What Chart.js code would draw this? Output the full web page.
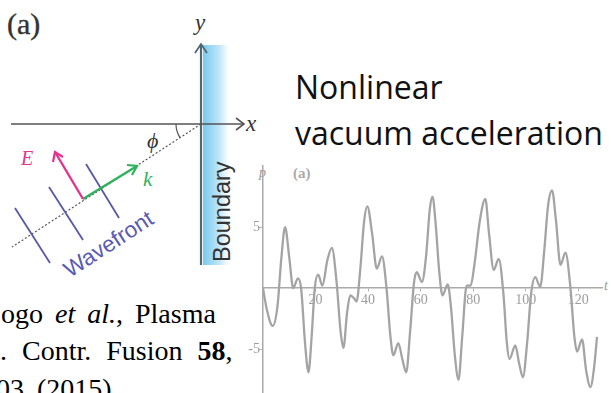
<!DOCTYPE html>
<html>
<head>
<meta charset="utf-8">
<script src="https://cdn.jsdelivr.net/npm/chart.js@4"></script>
<style>
  html, body { margin: 0; padding: 0; background: #fff; }
  body { width: 611px; height: 393px; overflow: hidden; position: relative; }
  #sketch { position: absolute; left: 0; top: 0; }
  #plot { position: absolute; left: 240px; top: 150px; }
</style>
</head>
<body>
<svg id="sketch" width="611" height="393" xmlns="http://www.w3.org/2000/svg">
  <defs>
    <linearGradient id="band" x1="0" x2="1" y1="0" y2="0">
      <stop offset="0" stop-color="#78caef"/>
      <stop offset="0.6" stop-color="#bde5f8"/>
      <stop offset="1" stop-color="#ffffff"/>
    </linearGradient>
  </defs>
  <!-- diagram -->
  <text x="7" y="34" font-family="Liberation Serif" font-size="30" fill="#333" stroke="#333" stroke-width="0.4">(a)</text>
  <rect x="203" y="45" width="26" height="220" fill="url(#band)"/>
  <line x1="201" y1="265" x2="201" y2="44" stroke="#4f6673" stroke-width="2.2"/>
  <polyline points="195,53 201,44 207,53" fill="none" stroke="#4f6673" stroke-width="1.8"/>
  <text x="195" y="30" font-family="Liberation Serif" font-style="italic" font-size="23" fill="#333">y</text>
  <line x1="11" y1="124" x2="244" y2="124" stroke="#555" stroke-width="1.5"/>
  <polyline points="236,118 244,124 236,130" fill="none" stroke="#555" stroke-width="1.6"/>
  <text x="246" y="131" font-family="Liberation Serif" font-style="italic" font-size="23" fill="#333">x</text>
  <line x1="201" y1="124" x2="12" y2="247" stroke="#555" stroke-width="1.2" stroke-dasharray="2,2"/>
  <path d="M 176 124 A 25 25 0 0 0 180 137.6" fill="none" stroke="#555" stroke-width="1.2"/>
  <text x="147" y="148" font-family="Liberation Serif" font-style="italic" font-size="22" fill="#333">ϕ</text>
  <line x1="15" y1="208" x2="50" y2="263" stroke="#5858a8" stroke-width="1.8"/>
  <line x1="49" y1="187" x2="83" y2="240" stroke="#5858a8" stroke-width="1.8"/>
  <line x1="86" y1="164" x2="119" y2="218" stroke="#5858a8" stroke-width="1.8"/>
  <line x1="83" y1="199" x2="137" y2="166" stroke="#2fb25c" stroke-width="2.4"/>
  <polyline points="127,165 137,166 132,175" fill="none" stroke="#2fb25c" stroke-width="2.2"/>
  <text x="143" y="186" font-family="Liberation Serif" font-style="italic" font-size="21" fill="#2fb25c">k</text>
  <line x1="83" y1="199" x2="55" y2="152" stroke="#e4338e" stroke-width="2.4"/>
  <polyline points="53,162 55,152 63,157" fill="none" stroke="#e4338e" stroke-width="2.2"/>
  <text x="21" y="165" font-family="Liberation Serif" font-style="italic" font-size="20" fill="#e4338e">E</text>
  <text x="70" y="278" transform="rotate(-33 70 278)" font-family="Liberation Sans" font-size="22.5" fill="#5a5ab4">Wavefront</text>
  <text x="230" y="262" transform="rotate(-90 230 262)" font-family="Liberation Sans" font-size="23.5" fill="#333">Boundary</text>
  <!-- headline -->
  <text x="295" y="99" font-family="Open Sans" font-size="32" fill="#111">Nonlinear</text>
  <text x="295" y="145" font-family="Open Sans" font-size="32" fill="#111" word-spacing="0">vacuum acceleration</text>
  <!-- reference -->
  <text x="1" y="323" font-family="Liberation Serif" font-size="28" fill="#000" word-spacing="5">ogo <tspan font-style="italic">et al.</tspan>, Plasma</text>
  <text x="0" y="360" font-family="Liberation Serif" font-size="28" fill="#000" word-spacing="8">. Contr. Fusion <tspan font-weight="bold">58</tspan>,</text>
  <text x="-4" y="398" font-family="Liberation Serif" font-size="28" fill="#000" word-spacing="6">03 (2015)</text>
  <!-- plot labels -->
  <text x="259" y="177" font-family="Liberation Serif" font-style="italic" font-size="14" fill="#999">p</text>
  <text x="293" y="178" font-family="Liberation Serif" font-weight="bold" font-size="15" fill="#aaa">(a)</text>
  <text x="604" y="290" font-family="Liberation Serif" font-style="italic" font-size="14" fill="#999">t</text>
</svg>
<canvas id="plot" width="371" height="260"></canvas>
<script>
// momentum p against time t
const tempos = [0, 1.5, 3.7, 5.5, 7, 8.4, 10, 11.5, 13.3, 14.5, 16, 17.3, 18.5, 19.7, 21, 22.6, 24.5, 26.2, 28, 29.5,
  30.6, 32, 33.2, 34.5, 35.6, 37, 38.5, 39.7, 41.5, 43.3, 45.3, 47, 48.5, 49.6, 51.5, 53, 54.5, 56, 57.5, 58.5,
  60.5, 62, 63.5, 64.5, 65.8, 67, 68.3, 70.3, 71.5, 73, 74.4, 75.8, 77.5, 79, 80.5, 82.5, 84.6, 86, 87.8, 89.7,
  91.5, 92.8, 93.8, 96, 97.5, 98.9, 100.5, 102, 103.6, 105.5, 107, 108.5, 110, 111.5, 113.2, 115.1, 117, 118.5,
  119.5, 121.4, 123, 124.6, 126, 127.1];
const momento = [0, -1.8, -3.1, -1.5, 2.5, 5.0, 2.5, 0, 0.8, 0, -4.5, -6.9, -4, 0, 1.1, 0.2, 2.3, 3.3, 0.5, -3.5,
  -4.9, -2.0, -0.6, -0.8, -1.1, 1.5, 5.5, 6.7, 4.5, 1.6, 2.6, 0, -4.0, -5.5, -4.5, -5.8, -6.9, -3.5, 0.5, 1.3,
  0.5, 2.5, 6.5, 7.5, 5, 1.5, -0.6, 0.3, -1.5, -5.5, -7.5, -4, 0.2, 0.2, 2.0, 5.5, 7.3, 4.5, 1.5, 2.4,
  -0.5, -4.5, -5.8, -4.7, -6.2, -7.3, -4.5, -0.5, 0.9, 0.1, 3, 6.8, 8.0, 5.5, 1.9, 2.9, 0, -4,
  -5.2, -4.2, -6.8, -8.1, -6.5, -4.0];
const ticksT = [20, 40, 60, 80, 100, 120];
const ticksP = [-5, 5];

const pontos = tempos.map(function (t, i) { return { x: t, y: momento[i] }; });

// rótulos do eixo p, desenhados ao lado do eixo central
const rotulosP = {
  id: 'rotulosP',
  afterDraw: function (chart) {
    const c = chart.ctx;
    const x0 = chart.scales.x.getPixelForValue(0);
    c.save();
    c.fillStyle = '#9c9c9c';
    c.font = '14px "Liberation Serif"';
    c.textAlign = 'right';
    c.textBaseline = 'middle';
    ticksP.forEach(function (v) {
      c.fillText(String(v), x0 - 3, chart.scales.y.getPixelForValue(v));
    });
    c.restore();
  }
};

const ctx = document.getElementById('plot').getContext('2d');
new Chart(ctx, {
  type: 'line',
  data: {
    datasets: [{
      data: pontos,
      borderColor: '#a4a4a4',
      borderWidth: 2.3,
      pointRadius: 0,
      cubicInterpolationMode: 'monotone',
      fill: false
    }]
  },
  options: {
    responsive: false,
    devicePixelRatio: 1,
    animation: false,
    layout: { padding: { left: 23, right: 9, top: 16, bottom: 12 } },
    plugins: { legend: { display: false }, tooltip: { enabled: false } },
    scales: {
      x: {
        type: 'linear',
        position: { y: 0 },
        min: 0,
        max: 129,
        afterBuildTicks: function (axis) { axis.ticks = ticksT.map(function (v) { return { value: v }; }); },
        ticks: { color: '#9c9c9c', font: { family: 'Liberation Serif', size: 14 }, padding: 1, minRotation: 0, maxRotation: 0 },
        grid: { drawOnChartArea: false, drawTicks: true, tickLength: 3, color: '#b5b5b5' },
        border: { color: '#aaaaaa', width: 1.5, dash: [4, 2] }
      },
      y: {
        type: 'linear',
        position: { x: 0 },
        min: -9,
        max: 10,
        afterBuildTicks: function (axis) { axis.ticks = ticksP.map(function (v) { return { value: v }; }); },
        ticks: { display: false },
        grid: { drawOnChartArea: false, drawTicks: true, tickLength: 3, color: '#b5b5b5' },
        border: { color: '#aaaaaa', width: 1.5, dash: [4, 2] }
      }
    }
  },
  plugins: [rotulosP]
});
</script>
</body>
</html>
